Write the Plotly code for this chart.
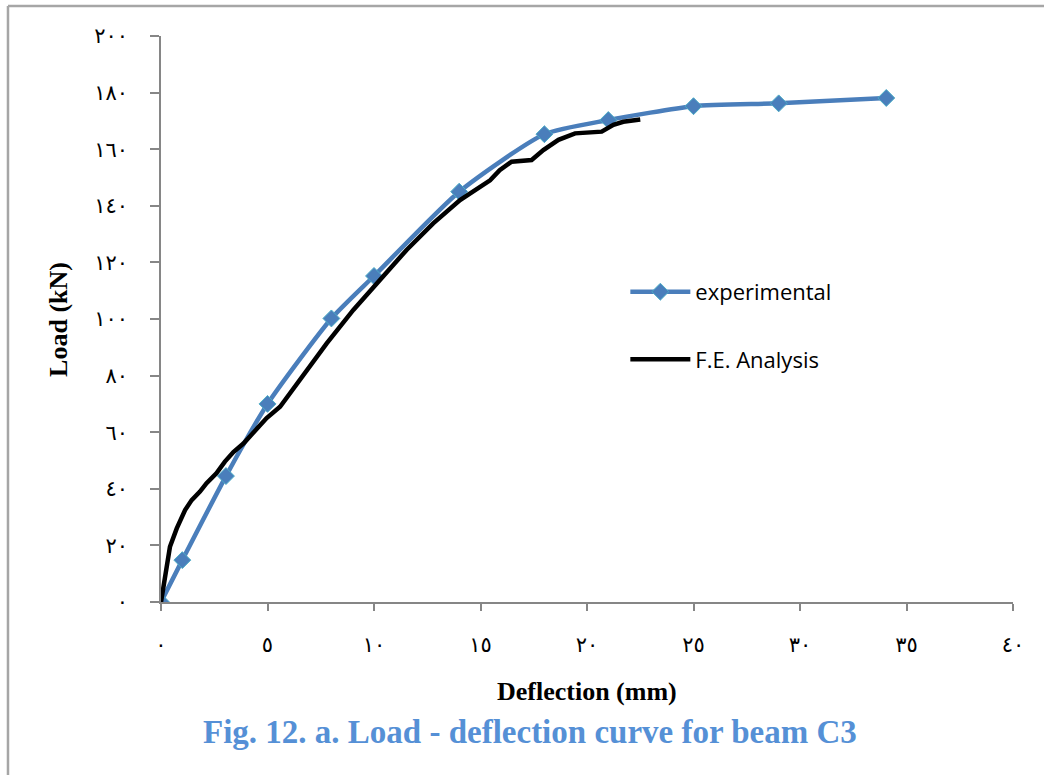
import plotly.graph_objects as go

# Experimental data (deflection mm, load kN)
exp_x = [0, 1.0, 3.05, 5.0, 8.0, 10.0, 14.0, 18.0, 21.0, 25.0, 29.0, 34.05]
exp_y = [0, 14.8, 44.5, 70.0, 100.2, 115.2, 145.0, 165.3, 170.3, 175.2, 176.2, 178.1]

# F.E. analysis curve
fe_x = [0, 0.42, 0.74, 1.13, 1.44, 1.83, 2.14, 2.6, 3.0, 3.4, 3.87, 4.33, 4.96, 5.59,
        6.53, 7.78, 9.03, 10.28, 11.53, 12.78, 14.04, 15.45, 15.9, 16.46, 17.4, 17.95,
        18.66, 19.44, 20.69, 21.24, 21.7, 22.5]
fe_y = [0, 19.5, 26.0, 32.5, 36.0, 39.0, 42.0, 45.5, 49.6, 53.0, 56.0, 59.6, 65.0, 69.0,
        78.4, 91.4, 103.2, 113.8, 124.4, 133.8, 142.0, 149.0, 152.6, 155.6, 156.2, 159.7,
        163.3, 165.6, 166.2, 168.6, 169.7, 170.5]

x_ticks = [0, 5, 10, 15, 20, 25, 30, 35, 40]
x_labels = ["٠", "٥", "١٠", "١٥", "٢٠", "٢٥", "٣٠", "٣٥", "٤٠"]
y_ticks = [0, 20, 40, 60, 80, 100, 120, 140, 160, 180, 200]
y_labels = ["٠", "٢٠", "٤٠", "٦٠", "٨٠", "١٠٠", "١٢٠", "١٤٠", "١٦٠", "١٨٠", "٢٠٠"]

fig = go.Figure()
fig.add_trace(go.Scatter(
    x=exp_x, y=exp_y, name="experimental", mode="lines+markers",
    line=dict(color="#4A7EBB", width=4.5, shape="spline", smoothing=0.6),
    marker=dict(symbol="diamond", size=13, color="#4A7EBB",
                line=dict(color="#4BACC6", width=1)),
    legendgroup="a",
))
fig.add_trace(go.Scatter(
    x=fe_x, y=fe_y, name="F.E. Analysis", mode="lines",
    line=dict(color="black", width=4.5),
    legendgroup="b",
))

axis_common = dict(
    showgrid=False, zeroline=False, showline=True, linecolor="#868686", linewidth=1.5,
    ticks="outside", tickcolor="#868686", tickwidth=1.5,
    tickfont=dict(family="DejaVu Sans", size=21, color="black"),
)
fig.update_xaxes(range=[0, 40], tickvals=x_ticks, ticktext=x_labels, ticklen=7,
                 ticklabelstandoff=16, **axis_common)
fig.update_yaxes(range=[0, 200], tickvals=y_ticks, ticktext=y_labels, ticklen=9,
                 ticklabelstandoff=18, **axis_common)

fig.update_layout(
    width=1044, height=775,
    margin=dict(l=161, r=31, t=36, b=173),
    paper_bgcolor="white", plot_bgcolor="white",
    showlegend=True,
    legend=dict(x=0.545, y=0.585, xanchor="left", yanchor="top",
                font=dict(family="Open Sans", size=22, color="black"),
                tracegroupgap=36, itemwidth=60, bgcolor="rgba(0,0,0,0)"),
    annotations=[
        dict(text="<b>Deflection (mm)</b>", x=0.5, y=-0.159, xref="paper", yref="paper",
             xanchor="center", yanchor="middle", showarrow=False,
             font=dict(family="Liberation Serif", size=26, color="black")),
        dict(text="<b>Load (kN)</b>", x=-0.121, y=0.5, xref="paper", yref="paper",
             xanchor="center", yanchor="middle", showarrow=False, textangle=-90,
             font=dict(family="Liberation Serif", size=26, color="black")),
        dict(text="<b>Fig. 12. a. Load - deflection curve for beam C3</b>",
             x=(530 - 161) / 852, y=-0.2297, xref="paper", yref="paper",
             xanchor="center", yanchor="middle", showarrow=False,
             font=dict(family="Liberation Serif", size=33, color="#5590D6")),
    ],
    shapes=[
        dict(type="line", xref="paper", yref="paper", x0=-0.1796, x1=1.04,
             y0=(602 - 6) / 566, y1=(602 - 6) / 566, line=dict(color="#A6A6A6", width=2.5)),
        dict(type="line", xref="paper", yref="paper", x0=-0.1796, x1=-0.1796,
             y0=(602 - 6) / 566, y1=-0.31, line=dict(color="#A6A6A6", width=2.5)),
    ],
)

fig.write_html("out.html", config={"displayModeBar": False},
               post_script="document.body.style.margin='0';document.body.style.overflow='hidden';")
